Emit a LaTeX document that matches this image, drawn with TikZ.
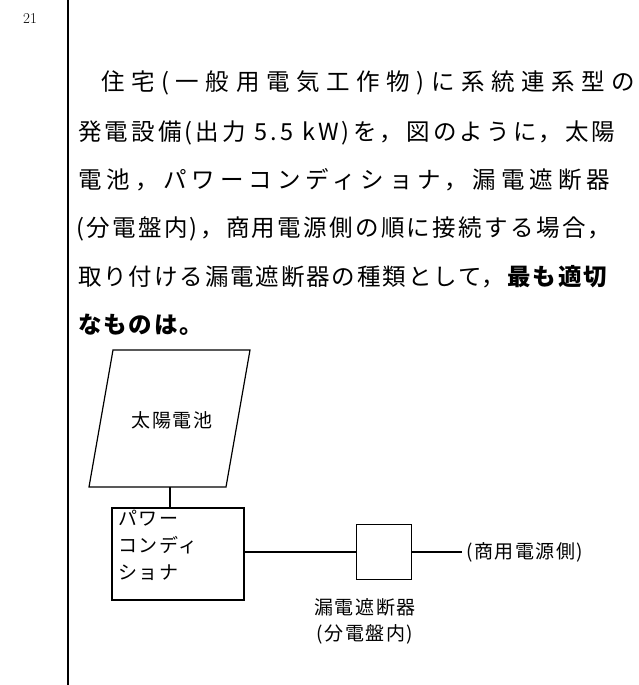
\documentclass[tikz,border=0pt]{standalone}
\usepackage{fontspec}
\newfontfamily\jp{Noto Sans CJK JP}
\newfontfamily\jpl{Noto Sans CJK JP}[LetterSpace=8]
\newcommand{\ls}[1]{\addfontfeatures{LetterSpace=#1}}
\begin{document}
\begin{tikzpicture}[x=1pt,y=-1pt,
  txt/.style={anchor=west,inner sep=0,font=\jp\fontsize{23.5}{24}\selectfont},
  lab/.style={inner sep=0,font=\jpl\fontsize{19}{19}\selectfont},
  ln/.style={line width=1.2pt}]
\useasboundingbox (0,0) rectangle (638,685);
\node[inner sep=0,font=\rmfamily\fontsize{15}{15}\selectfont] (num) at (30,19) {21};
\coordinate (vt) at (68,0); \coordinate (vb) at (68,685);
\draw[ln] (vt) -- (vb);
\node[txt] (l1) at (101,83) {\ls{28}住宅(一般用電気工作物)に系統連系型の};
\node[txt] (l2) at (78,133) {\ls{13.5}発電設備(出力 5.5 kW)を，図のように，太陽};
\node[txt] (l3) at (78,180) {\ls{21}電池，パワーコンディショナ，漏電遮断器};
\node[txt] (l4) at (76,229) {\ls{10}(分電盤内)，商用電源側の順に接続する場合，};
\node[txt] (l5) at (78,277) {\ls{8}取り付ける漏電遮断器の種類として，\textbf{最も適切}};
\node[txt] (l6) at (78,325) {\ls{8}\textbf{なものは。}};
\draw[ln] (113,350) -- (250,350) -- (226,487) -- (89,487) -- cycle;
\node[lab] (sun) at (172,420) {太陽電池};
\node[draw,ln,minimum width=132,minimum height=92,inner sep=0] (pcs) at (178,554) {};
\node[lab,anchor=north west,align=left,font=\jpl\fontsize{19}{27}\selectfont] (pcst) at (118,510) {パワー\\コンディ\\ショナ};
\draw[ln] (170,487) -- (pcs.north -| 170,0);
\node[draw,ln,minimum width=55,minimum height=55,inner sep=0] (elb) at (384,552) {};
\draw[ln] (pcs.east |- elb) -- (elb.west);
\coordinate (gr) at (462,552);
\draw[ln] (elb.east) -- (gr);
\node[lab,anchor=west] (grid) at (466,552) {(商用電源側)};
\node[lab] (e1) at (365,607) {漏電遮断器};
\node[lab] (e2) at (365,634) {(分電盤内)};
\end{tikzpicture}
\end{document}
